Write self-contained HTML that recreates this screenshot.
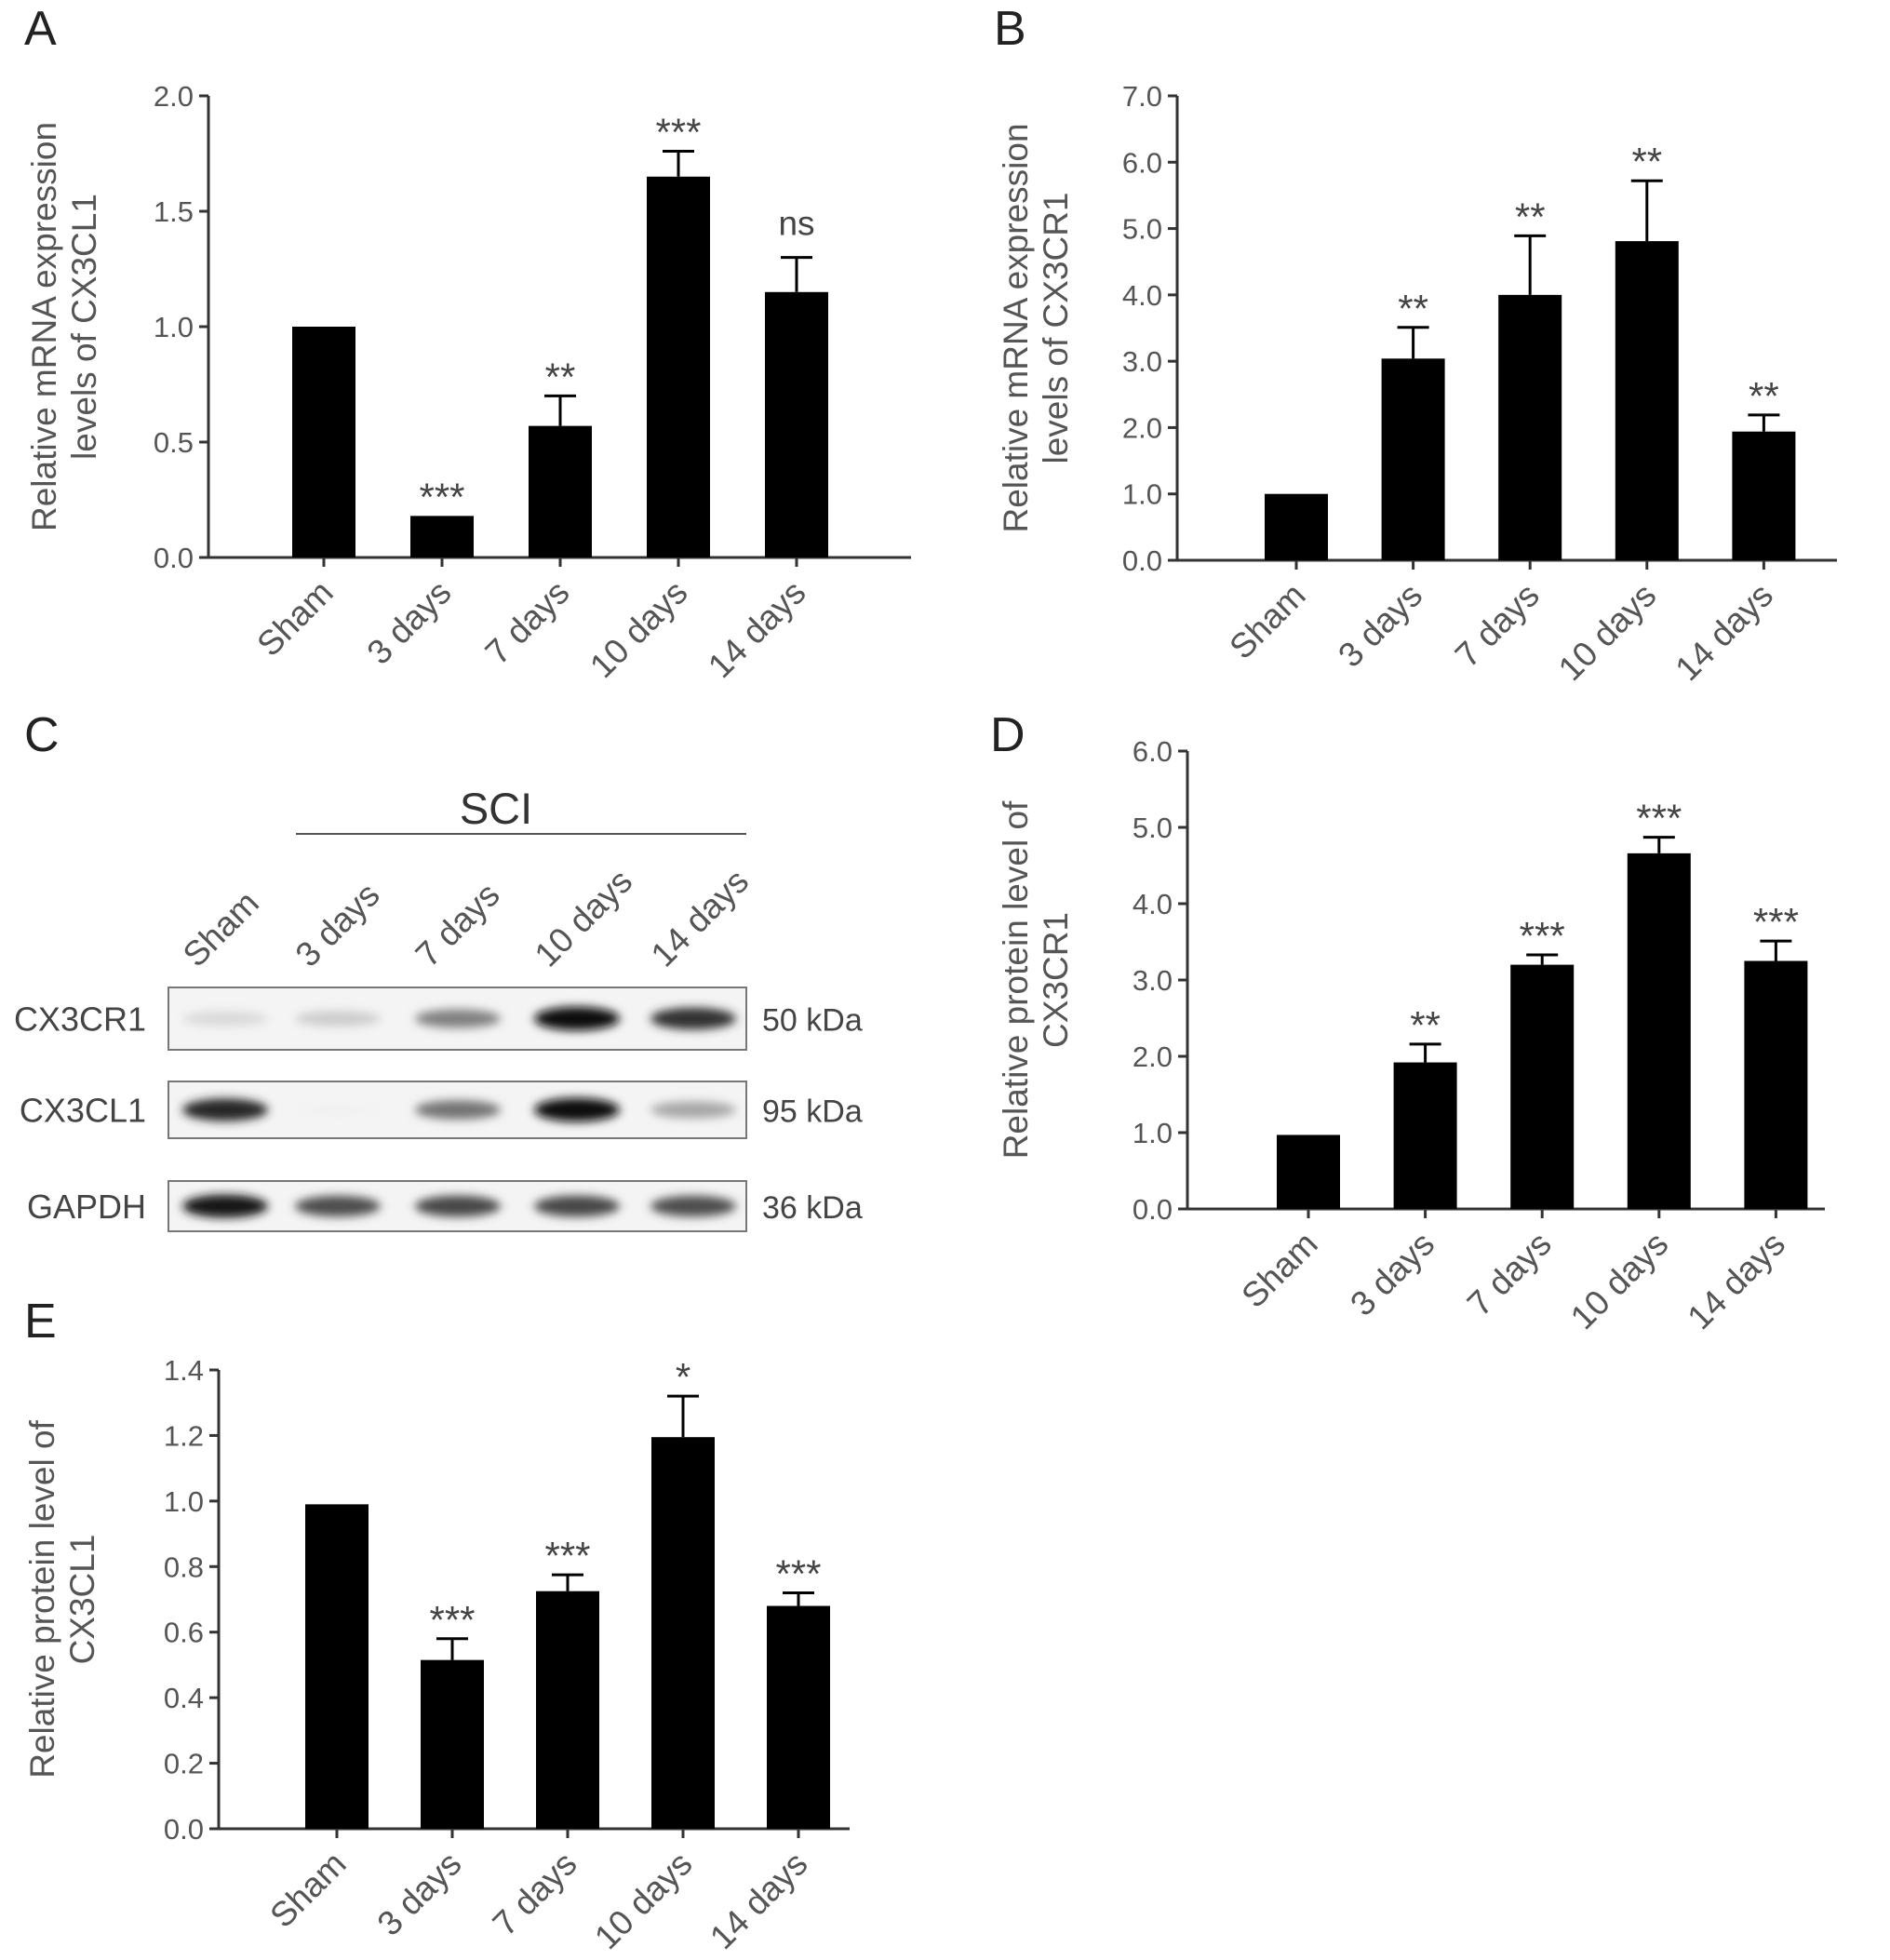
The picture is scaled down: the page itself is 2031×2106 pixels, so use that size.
<!DOCTYPE html>
<html><head><meta charset="utf-8"><style>
html,body{margin:0;padding:0;background:#fff;}
svg{display:block;font-family:"Liberation Sans",Arial,sans-serif;}
</style></head><body>
<svg id="fig" width="2031" height="2106" viewBox="0 0 2031 2106" xmlns="http://www.w3.org/2000/svg">
<defs>
<filter id="blur" x="-30%" y="-100%" width="160%" height="300%"><feGaussianBlur stdDeviation="5"/></filter>
</defs>
<g id="charts"></g>
<g id="blot"></g>
</svg>
<script>
const categories = ["Sham","3 days","7 days","10 days","14 days"];
const aValues = [1.0, 0.18, 0.57, 1.65, 1.15];
const aErrors = [1.0, 0.18, 0.70, 1.76, 1.30];
const aSig = ["", "***", "**", "***", "ns"];
const aTicks = [0, 0.5, 1.0, 1.5, 2.0];
const bValues = [1.0, 3.04, 4.0, 4.81, 1.94];
const bErrors = [1.0, 3.51, 4.89, 5.72, 2.19];
const bSig = ["", "**", "**", "**", "**"];
const bTicks = [0,1,2,3,4,5,6,7];
const dValues = [0.97, 1.92, 3.2, 4.66, 3.25];
const dErrors = [0.97, 2.16, 3.33, 4.87, 3.51];
const dSig = ["", "**", "***", "***", "***"];
const dTicks = [0,1,2,3,4,5,6];
const eValues = [0.99, 0.515, 0.725, 1.195, 0.68];
const eErrors = [0.99, 0.58, 0.775, 1.32, 0.72];
const eSig = ["", "***", "***", "*", "***"];
const eTicks = [0,0.2,0.4,0.6,0.8,1.0,1.2,1.4];
const bandIntensity = {
  cx3cr1: [0.15, 0.2, 0.5, 0.95, 0.8],
  cx3cl1: [0.85, 0.05, 0.55, 0.95, 0.35],
  gapdh: [0.9, 0.7, 0.72, 0.72, 0.7]
};

const NS = "http://www.w3.org/2000/svg";
function mk(parent, tag, attrs, text){
  const el = document.createElementNS(NS, tag);
  for (const k in attrs) el.setAttribute(k, attrs[k]);
  if (text !== undefined) el.textContent = text;
  parent.appendChild(el);
  return el;
}
const root = document.getElementById('charts');

function chart(cfg){
  const g = mk(root, 'g', {});
  
  
  const ymax = cfg.ticks[cfg.ticks.length-1];
  const y = v => cfg.y0 - (v/ymax)*(cfg.y0 - cfg.yTop);
  const x = i => cfg.cx0 + i*cfg.step;
  const L = mk(g,'text',{x:cfg.letter[0],y:cfg.letter[1],'font-size':52,fill:'#222'},cfg.letterText);
  
  
  const ya = mk(g,'line',{x1:cfg.ax,y1:cfg.yTop,x2:cfg.ax,y2:cfg.y0,stroke:'#333','stroke-width':3});
  
  
  const xa = mk(g,'line',{x1:cfg.ax-10,y1:cfg.y0,x2:cfg.xEnd,y2:cfg.y0,stroke:'#333','stroke-width':3});
  
  
  cfg.ticks.forEach(t=>{
    mk(g,'line',{x1:cfg.ax-10,y1:y(t),x2:cfg.ax,y2:y(t),stroke:'#333','stroke-width':3});
    const tl = mk(g,'text',{x:cfg.ax-16,y:y(t)+11,'font-size':31,fill:'#555','text-anchor':'end'},t.toFixed(cfg.dec));
    
    
  });
  const tt = mk(g,'text',{transform:`translate(${cfg.titleX},${(cfg.yTop+cfg.y0)/2}) rotate(-90)`,'font-size':37,fill:'#555','text-anchor':'middle'});
  
  
  mk(tt,'tspan',{x:0,dy:0},cfg.title[0]);
  mk(tt,'tspan',{x:0,dy:43},cfg.title[1]);
  categories.forEach((c,i)=>{
    const cx = x(i);
    mk(g,'line',{x1:cx,y1:cfg.y0,x2:cx,y2:cfg.y0+10,stroke:'#333','stroke-width':3});
    const bar = mk(g,'rect',{x:cx-cfg.bw/2,y:y(cfg.values[i]),width:cfg.bw,height:cfg.y0-y(cfg.values[i]),fill:'#000'});
    
    
    const e = cfg.errors[i];
    if (e > cfg.values[i]) {
      mk(g,'line',{x1:cx,y1:y(cfg.values[i]),x2:cx,y2:y(e),stroke:'#000','stroke-width':3});
      mk(g,'line',{x1:cx-17,y1:y(e),x2:cx+17,y2:y(e),stroke:'#000','stroke-width':3});
    }
    if (cfg.sig[i]) {
      const isNs = cfg.sig[i]==='ns';
      const s = mk(g,'text',{x:cx,y:y(e)-(isNs?24:6),'font-size':isNs?37:42,fill:'#444','text-anchor':'middle'},cfg.sig[i]);
      
      
    }
    const xl = mk(g,'text',{transform:`translate(${cx+12},${cfg.y0+40}) rotate(-45)`,'font-size':37,fill:'#555','text-anchor':'end'},c);
    
    
  });
}

chart({name:'chart-a-cx3cl1-mrna',letterText:'A',letter:[26,48],ax:224,yTop:103,y0:599,xEnd:979,cx0:348,step:127,bw:68,
  values:aValues,errors:aErrors,sig:aSig,ticks:aTicks,dec:1,titleX:60,title:['Relative mRNA expression','levels of CX3CL1']});
chart({name:'chart-b-cx3cr1-mrna',letterText:'B',letter:[1068,48],ax:1265,yTop:103,y0:602,xEnd:1974,cx0:1393,step:125.6,bw:68,
  values:bValues,errors:bErrors,sig:bSig,ticks:bTicks,dec:1,titleX:1104,title:['Relative mRNA expression','levels of  CX3CR1']});
chart({name:'chart-d-cx3cr1-protein',letterText:'D',letter:[1064,807],ax:1276,yTop:807,y0:1299,xEnd:1961,cx0:1406,step:125.6,bw:68,
  values:dValues,errors:dErrors,sig:dSig,ticks:dTicks,dec:1,titleX:1104,title:['Relative protein level of','CX3CR1']});
chart({name:'chart-e-cx3cl1-protein',letterText:'E',letter:[26,1437],ax:235,yTop:1472,y0:1965,xEnd:913,cx0:362,step:124,bw:68,
  values:eValues,errors:eErrors,sig:eSig,ticks:eTicks,dec:1,titleX:58,title:['Relative protein level of','CX3CL1']});

const bg = document.getElementById('blot');
mk(bg,'text',{x:26,y:807,'font-size':52,fill:'#222'},'C');
const sci = mk(bg,'text',{x:533,y:885,'font-size':47,fill:'#333','text-anchor':'middle'},'SCI');


mk(bg,'line',{x1:318,y1:896,x2:802,y2:896,stroke:'#555','stroke-width':2});
const lanes = [242,363,492,620,745];
categories.forEach((c,i)=>{
  const t = mk(bg,'text',{transform:`translate(${lanes[i]-30},${1041}) rotate(-45)`,'font-size':37,fill:'#555'},c);
  
  
});
const rows = [["CX3CR1","50 kDa",1061,1128,bandIntensity.cx3cr1],["CX3CL1","95 kDa",1162,1223,bandIntensity.cx3cl1],["GAPDH","36 kDa",1269,1323,bandIntensity.gapdh]];
rows.forEach(r=>{
  const box = mk(bg,'rect',{x:181,y:r[2],width:621,height:r[3]-r[2],fill:'#f4f4f4',stroke:'#777','stroke-width':2});
  
  
  const cy = (r[2]+r[3])/2;
  r[4].forEach((v,i)=>{
    const c = Math.round(255*(1-v));
    mk(bg,'ellipse',{cx:lanes[i],cy:cy,rx:46,ry:7+6*v,fill:`rgb(${c},${c},${c})`,filter:'url(#blur)'});
  });
  const lbl = mk(bg,'text',{x:157,y:cy+13,'font-size':36,fill:'#444','text-anchor':'end'},r[0]);
  
  
  const kd = mk(bg,'text',{x:819,y:cy+13,'font-size':34,fill:'#444'},r[1]);
  
  
});
</script>
</body></html>
